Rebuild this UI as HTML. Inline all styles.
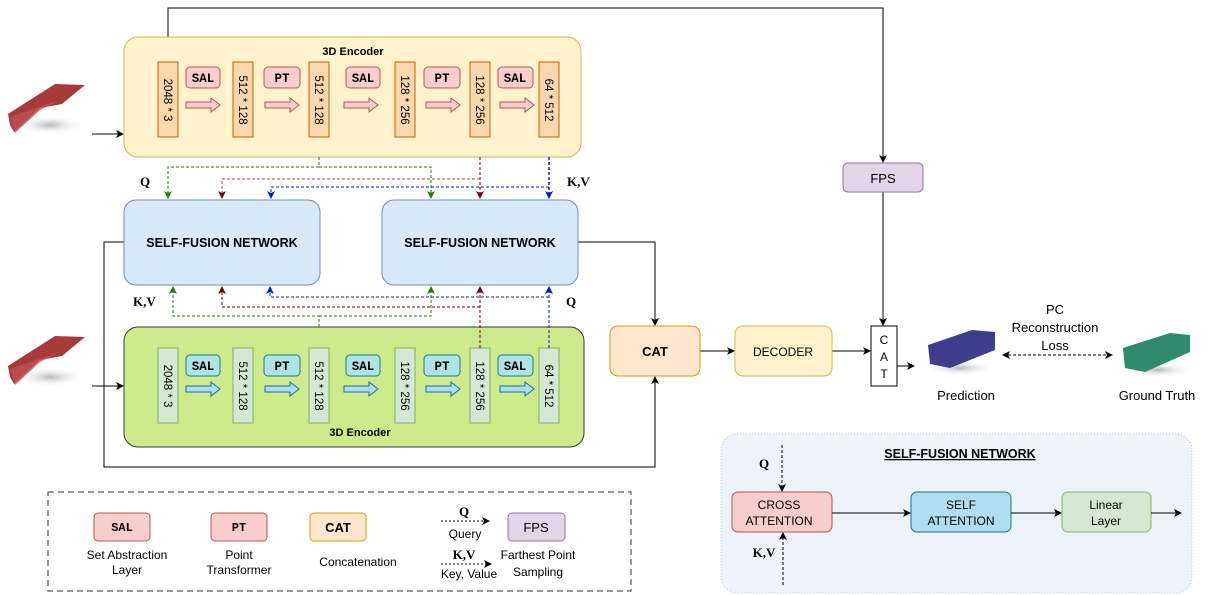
<!DOCTYPE html>
<html><head><meta charset="utf-8"><style>
html,body{margin:0;padding:0;background:#fff;}
svg{display:block;font-family:"Liberation Sans",sans-serif;}
.s{font-family:"Liberation Serif",serif;font-weight:bold;font-size:13px;}
</style></head><body>
<svg width="1212" height="595" viewBox="0 0 1212 595" xmlns="http://www.w3.org/2000/svg">
<defs>
<marker id="ak" markerWidth="8" markerHeight="8" refX="7" refY="4" orient="auto" markerUnits="userSpaceOnUse"><path d="M0,0 L8,4 L0,8 L2,4z" fill="#000"/></marker>
<marker id="ag" markerWidth="8" markerHeight="8" refX="7" refY="4" orient="auto" markerUnits="userSpaceOnUse"><path d="M0,0 L8,4 L0,8 L2,4z" fill="#2d7600"/></marker>
<marker id="ar" markerWidth="8" markerHeight="8" refX="7" refY="4" orient="auto" markerUnits="userSpaceOnUse"><path d="M0,0 L8,4 L0,8 L2,4z" fill="#6f0000"/></marker>
<marker id="ab" markerWidth="8" markerHeight="8" refX="7" refY="4" orient="auto" markerUnits="userSpaceOnUse"><path d="M0,0 L8,4 L0,8 L2,4z" fill="#001dbc"/></marker>
<marker id="as" markerWidth="8" markerHeight="8" refX="1" refY="4" orient="auto" markerUnits="userSpaceOnUse"><path d="M8,0 L0,4 L8,8 L6,4z" fill="#000"/></marker>
<radialGradient id="sh"><stop offset="0" stop-color="#888" stop-opacity=".6"/><stop offset="1" stop-color="#fff" stop-opacity="0"/></radialGradient>
</defs>

<!-- point clouds -->
<g>
<ellipse cx="50" cy="125" rx="35" ry="10" fill="url(#sh)"/>
<path d="M8,114 L55,84 L85,85 L62,104 L40,108 L14,132 L10,125z" fill="#a83a3a"/>
<path d="M10,117 L60,100 L40,110 L15,133z" fill="#c05050" opacity=".8"/>
<ellipse cx="50" cy="377" rx="35" ry="10" fill="url(#sh)"/>
<path d="M8,366 L55,336 L85,337 L62,356 L40,360 L14,384 L10,377z" fill="#a83a3a"/>
<path d="M10,369 L60,352 L40,362 L15,385z" fill="#c05050" opacity=".8"/>
<ellipse cx="960" cy="368" rx="35" ry="8" fill="url(#sh)"/>
<path d="M928,345 L972,330 L995,332 L995,350 L950,368 L930,364z" fill="#3d3f8e"/>
<ellipse cx="1158" cy="370" rx="35" ry="8" fill="url(#sh)"/>
<path d="M1123,348 L1170,333 L1190,335 L1190,352 L1145,372 L1125,368z" fill="#2f8a6e"/>
</g>

<!-- black lines -->
<g stroke="#000" stroke-width="1" fill="none">
<path d="M92,134 L123,134" marker-end="url(#ak)"/>
<path d="M92,386 L123,386" marker-end="url(#ak)"/>
<path d="M168,37 L168,8 L883,8 L883,162" marker-end="url(#ak)"/>
<path d="M883,192 L883,325" marker-end="url(#ak)"/>
<path d="M578,242 L655,242 L655,325" marker-end="url(#ak)"/>
<path d="M124,242 L104,242 L104,467 L655,467 L655,377" marker-end="url(#ak)"/>
<path d="M700,351 L734,351" marker-end="url(#ak)"/>
<path d="M832,351 L870,351" marker-end="url(#ak)"/>
<path d="M897,366 L914,366" marker-end="url(#ak)"/>
<path d="M1003,355 L1112,355" stroke-dasharray="3,2" marker-start="url(#as)" marker-end="url(#ak)"/>
</g>

<!-- top encoder -->
<rect x="124" y="37" width="457" height="120" rx="14" fill="#fff2cc" stroke="#d6b656"/>
<text x="353" y="55" text-anchor="middle" font-weight="bold" font-size="11">3D Encoder</text>
<g fill="#fad7ac" stroke="#b46504">
<rect x="158" y="62" width="20" height="75"/><rect x="233" y="62" width="20" height="75"/><rect x="309" y="62" width="20" height="75"/>
<rect x="395" y="62" width="20" height="75"/><rect x="470" y="62" width="20" height="75"/><rect x="539" y="62" width="20" height="75"/>
</g>
<g fill="#f8cecc" stroke="#b85450">
<rect x="186" y="67" width="34" height="21" rx="4"/><rect x="264" y="67" width="36" height="21" rx="4"/><rect x="346" y="67" width="34" height="21" rx="4"/>
<rect x="424" y="67" width="36" height="21" rx="4"/><rect x="498" y="67" width="35" height="21" rx="4"/>
</g>
<g font-family="'Liberation Mono', 'DejaVu Sans Mono', monospace" font-weight="bold" font-size="12.5" text-anchor="middle">
<text x="203" y="82">SAL</text><text x="282" y="82">PT</text><text x="363" y="82">SAL</text><text x="442" y="82">PT</text><text x="515" y="82">SAL</text>
</g>
<g fill="#f8cecc" stroke="#b85450">
<path d="M186,102 L211,102 L211,98 L220,105 L211,112 L211,108 L186,108z"/>
<path d="M265,102 L290,102 L290,98 L299,105 L290,112 L290,108 L265,108z"/>
<path d="M344,102 L369,102 L369,98 L378,105 L369,112 L369,108 L344,108z"/>
<path d="M426,102 L451,102 L451,98 L460,105 L451,112 L451,108 L426,108z"/>
<path d="M500,102 L525,102 L525,98 L534,105 L525,112 L525,108 L500,108z"/>
</g>
<g font-size="11.5" text-anchor="middle">
<text transform="translate(164,100) rotate(90)">2048 * 3</text>
<text transform="translate(239,100) rotate(90)">512 * 128</text>
<text transform="translate(315,100) rotate(90)">512 * 128</text>
<text transform="translate(401,100) rotate(90)">128 * 256</text>
<text transform="translate(476,100) rotate(90)">128 * 256</text>
<text transform="translate(545,100) rotate(90)">64 * 512</text>
</g>

<!-- bottom encoder -->
<rect x="124" y="327" width="460" height="120" rx="14" fill="#cdeb8b" stroke="#36393d"/>
<text x="360" y="436" text-anchor="middle" font-weight="bold" font-size="11">3D Encoder</text>
<g fill="#d5e8d4" stroke="#82b366">
<rect x="158" y="348" width="20" height="75"/><rect x="233" y="348" width="20" height="75"/><rect x="309" y="348" width="20" height="75"/>
<rect x="395" y="348" width="20" height="75"/><rect x="470" y="348" width="20" height="75"/><rect x="539" y="348" width="20" height="75"/>
</g>
<g fill="#b0e3e6" stroke="#0e8088">
<rect x="186" y="355" width="34" height="21" rx="4"/><rect x="264" y="355" width="36" height="21" rx="4"/><rect x="346" y="355" width="34" height="21" rx="4"/>
<rect x="424" y="355" width="36" height="21" rx="4"/><rect x="498" y="355" width="35" height="21" rx="4"/>
</g>
<g font-family="'Liberation Mono', 'DejaVu Sans Mono', monospace" font-weight="bold" font-size="12.5" text-anchor="middle">
<text x="203" y="370">SAL</text><text x="282" y="370">PT</text><text x="363" y="370">SAL</text><text x="442" y="370">PT</text><text x="515" y="370">SAL</text>
</g>
<g fill="#b1ddf0" stroke="#10739e">
<path d="M186,386 L211,386 L211,382 L220,389 L211,396 L211,392 L186,392z"/>
<path d="M265,386 L290,386 L290,382 L299,389 L290,396 L290,392 L265,392z"/>
<path d="M344,386 L369,386 L369,382 L378,389 L369,396 L369,392 L344,392z"/>
<path d="M426,386 L451,386 L451,382 L460,389 L451,396 L451,392 L426,392z"/>
<path d="M500,386 L525,386 L525,382 L534,389 L525,396 L525,392 L500,392z"/>
</g>
<g font-size="11.5" text-anchor="middle">
<text transform="translate(164,386) rotate(90)">2048 * 3</text>
<text transform="translate(239,386) rotate(90)">512 * 128</text>
<text transform="translate(315,386) rotate(90)">512 * 128</text>
<text transform="translate(401,386) rotate(90)">128 * 256</text>
<text transform="translate(476,386) rotate(90)">128 * 256</text>
<text transform="translate(545,386) rotate(90)">64 * 512</text>
</g>

<!-- dashed connectors -->
<g fill="none" stroke-dasharray="3,2" stroke-width="1">
<path d="M319,157 L319,167 L168,167 L168,198" stroke="#2d7600" marker-end="url(#ag)"/>
<path d="M319,167 L431,167 L431,198" stroke="#2d7600" marker-end="url(#ag)"/>
<path d="M480,157 L480,198" stroke="#6f0000" marker-end="url(#ar)"/>
<path d="M480,179 L222,179 L222,198" stroke="#a05050" marker-end="url(#ar)"/>
<path d="M549,157 L549,198" stroke="#001dbc" stroke-width="1.5" marker-end="url(#ab)"/>
<path d="M549,187 L271,187 L271,198" stroke="#001dbc" marker-end="url(#ab)"/>
<path d="M319,327 L319,316 L173,316 L173,287" stroke="#2d7600" marker-end="url(#ag)"/>
<path d="M319,316 L431,316 L431,287" stroke="#2d7600" marker-end="url(#ag)"/>
<path d="M480,348 L480,287" stroke="#6f0000" marker-end="url(#ar)"/>
<path d="M480,307 L222,307 L222,287" stroke="#6f0000" marker-end="url(#ar)"/>
<path d="M549,348 L549,287" stroke="#001dbc" marker-end="url(#ab)"/>
<path d="M549,297 L270,297 L270,287" stroke="#001dbc" marker-end="url(#ab)"/>
</g>
<g class="s"><text x="140" y="186">Q</text><text x="567" y="186">K,V</text><text x="133" y="306">K,V</text><text x="566" y="306">Q</text></g>

<!-- SFN boxes -->
<rect x="124" y="200" width="196" height="85" rx="12" fill="#dae8fc" stroke="#6c8ebf"/>
<rect x="382" y="200" width="196" height="85" rx="12" fill="#dae8fc" stroke="#6c8ebf"/>
<g font-weight="bold" font-size="12.5" text-anchor="middle"><text x="222" y="247">SELF-FUSION NETWORK</text><text x="480" y="247">SELF-FUSION NETWORK</text></g>

<!-- FPS, CAT, decoder -->
<rect x="843" y="163" width="80" height="29" rx="5" fill="#e1d5e7" stroke="#9673a6"/>
<text x="883" y="183" text-anchor="middle" font-size="13">FPS</text>
<rect x="610" y="326" width="90" height="50" rx="8" fill="#ffe6cc" stroke="#d79b00"/>
<text x="655" y="356" text-anchor="middle" font-weight="bold" font-size="13">CAT</text>
<rect x="735" y="326" width="97" height="50" rx="8" fill="#fff2cc" stroke="#d6b656"/>
<text x="783" y="356" text-anchor="middle" font-size="12">DECODER</text>
<rect x="871" y="326" width="26" height="60" fill="#fff" stroke="#000"/>
<g font-size="12" text-anchor="middle"><text x="884" y="344">C</text><text x="884" y="361">A</text><text x="884" y="378">T</text></g>
<g font-size="13" text-anchor="middle">
<text x="1055" y="314">PC</text><text x="1055" y="332">Reconstruction</text><text x="1055" y="350">Loss</text>
<text x="966" y="400">Prediction</text><text x="1157" y="400">Ground Truth</text>
</g>

<!-- legend -->
<rect x="48" y="492" width="583" height="99" fill="none" stroke="#333" stroke-dasharray="6,4"/>
<rect x="94" y="513" width="56" height="28" rx="4" fill="#f8cecc" stroke="#b85450"/>
<text x="122" y="531" font-family="'Liberation Mono', monospace" font-weight="bold" font-size="12" text-anchor="middle">SAL</text>
<rect x="211" y="513" width="56" height="28" rx="4" fill="#f8cecc" stroke="#b85450"/>
<text x="239" y="531" font-family="'Liberation Mono', monospace" font-weight="bold" font-size="12" text-anchor="middle">PT</text>
<rect x="310" y="513" width="56" height="28" rx="4" fill="#ffe6cc" stroke="#d79b00"/>
<text x="338" y="532" text-anchor="middle" font-weight="bold" font-size="13">CAT</text>
<rect x="508" y="513" width="57" height="28" rx="4" fill="#e1d5e7" stroke="#9673a6"/>
<text x="536" y="532" text-anchor="middle" font-size="13">FPS</text>
<g font-size="12" text-anchor="middle">
<text x="127" y="559">Set Abstraction</text><text x="127" y="574">Layer</text>
<text x="239" y="559">Point</text><text x="239" y="574">Transformer</text>
<text x="358" y="566">Concatenation</text>
<text x="465" y="538">Query</text><text x="469" y="578">Key, Value</text>
<text x="538" y="559">Farthest Point</text><text x="538" y="576">Sampling</text>
</g>
<text x="464" y="516" class="s" text-anchor="middle">Q</text>
<text x="464" y="559" class="s" text-anchor="middle">K,V</text>
<path d="M441,521 L489,521" stroke="#000" stroke-dasharray="2,2" fill="none" marker-end="url(#ak)"/>
<path d="M441,564 L491,564" stroke="#000" stroke-dasharray="2,2" fill="none" marker-end="url(#ak)"/>

<!-- SFN detail -->
<rect x="721" y="434" width="471" height="159" rx="16" fill="#edf2fb" stroke="#a9c4eb" stroke-dasharray="1,2"/>
<text x="960" y="458" text-anchor="middle" font-weight="bold" font-size="12.5" text-decoration="underline">SELF-FUSION NETWORK</text>
<rect x="732" y="492" width="100" height="40" rx="6" fill="#f8cecc" stroke="#b85450"/>
<rect x="911" y="492" width="100" height="40" rx="6" fill="#b1ddf0" stroke="#10739e"/>
<rect x="1062" y="492" width="89" height="40" rx="6" fill="#d5e8d4" stroke="#82b366"/>
<g font-size="12" text-anchor="middle">
<text x="779" y="509">CROSS</text><text x="779" y="525">ATTENTION</text>
<text x="961" y="509">SELF</text><text x="961" y="525">ATTENTION</text>
<text x="1106" y="509">Linear</text><text x="1106" y="525">Layer</text>
</g>
<g stroke="#000" fill="none">
<path d="M832,513 L910,513" marker-end="url(#ak)"/>
<path d="M1011,513 L1061,513" marker-end="url(#ak)"/>
<path d="M1151,513 L1181,513" marker-end="url(#ak)"/>
<path d="M782,445 L782,491" stroke-dasharray="3,2" marker-end="url(#ak)"/>
<path d="M783,585 L783,533" stroke-dasharray="3,2" marker-end="url(#ak)"/>
</g>
<text x="764" y="468" class="s" text-anchor="middle">Q</text>
<text x="764" y="557" class="s" text-anchor="middle">K,V</text>
</svg>
</body></html>
